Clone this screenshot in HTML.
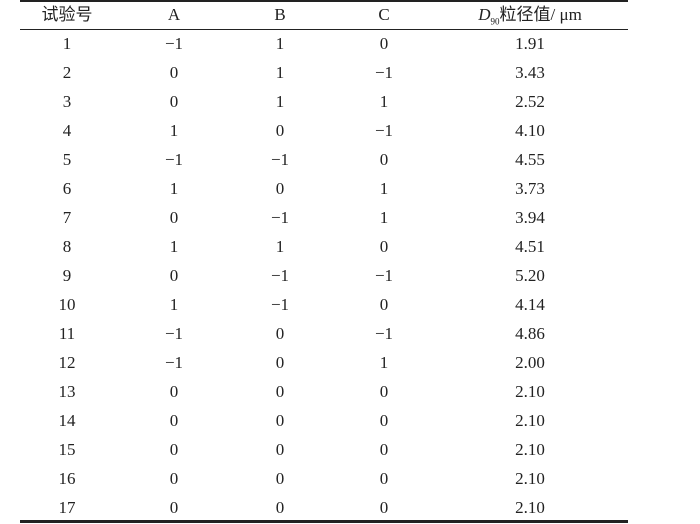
<!DOCTYPE html>
<html><head><meta charset="utf-8"><style>
body{margin:0;width:700px;height:524px;background:#fff;position:relative;overflow:hidden;font-family:"Liberation Serif","Noto Serif CJK SC",serif;color:#222;}
.l{position:absolute;left:20px;width:608px;background:#222;}
.t{position:absolute;font-size:17px;line-height:20px;transform:translateX(-50%);white-space:nowrap;}
.h{font-family:"Liberation Serif","Noto Sans CJK SC",serif;}
</style></head><body>
<div class="l" style="top:0;height:2px"></div>
<div class="l" style="top:29px;height:1px"></div>
<div class="l" style="top:520px;height:3px"></div>
<div id="c"></div>
<script>
var xs=[67,174,280,384,530];
var rows=[["1","−1","1","0","1.91"],["2","0","1","−1","3.43"],["3","0","1","1","2.52"],["4","1","0","−1","4.10"],["5","−1","−1","0","4.55"],["6","1","0","1","3.73"],["7","0","−1","1","3.94"],["8","1","1","0","4.51"],["9","0","−1","−1","5.20"],["10","1","−1","0","4.14"],["11","−1","0","−1","4.86"],["12","−1","0","1","2.00"],["13","0","0","0","2.10"],["14","0","0","0","2.10"],["15","0","0","0","2.10"],["16","0","0","0","2.10"],["17","0","0","0","2.10"]];
var h='';
var hd=['试验号','A','B','C','<i>D</i><sub style="font-size:9px">90</sub>粒径值/ μm'];
for(var j=0;j<5;j++)h+='<div class="t h" style="left:'+xs[j]+'px;top:5px">'+hd[j]+'</div>';
for(var i=0;i<rows.length;i++)for(var j=0;j<5;j++)h+='<div class="t" style="left:'+xs[j]+'px;top:'+(34+29*i)+'px">'+rows[i][j]+'</div>';
document.getElementById('c').innerHTML=h;
</script>
</body></html>
